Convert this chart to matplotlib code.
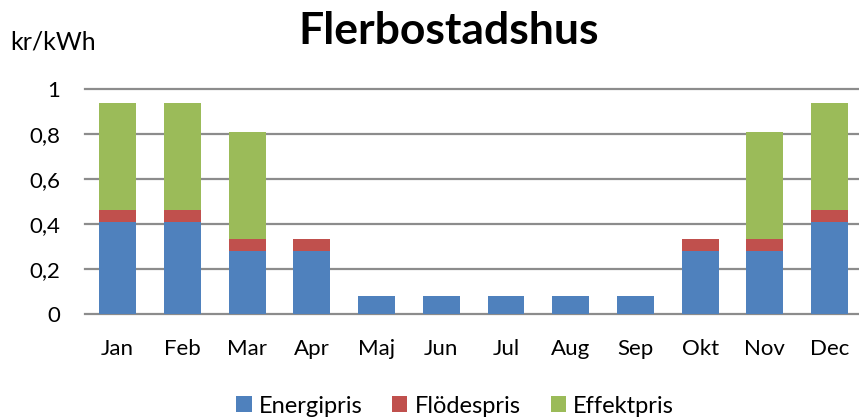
import matplotlib
matplotlib.use("Agg")
import matplotlib.pyplot as plt
import numpy as np

months = ["Jan", "Feb", "Mar", "Apr", "Maj", "Jun", "Jul", "Aug", "Sep", "Okt", "Nov", "Dec"]
energipris = [0.41, 0.41, 0.28, 0.28, 0.08, 0.08, 0.08, 0.08, 0.08, 0.28, 0.28, 0.41]
flodespris = [0.053, 0.053, 0.053, 0.053, 0, 0, 0, 0, 0, 0.053, 0.053, 0.053]
effektpris = [0.476, 0.476, 0.474, 0, 0, 0, 0, 0, 0, 0, 0.474, 0.476]
yticks = [0, 0.2, 0.4, 0.6, 0.8, 1]
ytick_labels = ["0", "0,2", "0,4", "0,6", "0,8", "1"]

plt.rcParams['font.family'] = ['Lato', 'DejaVu Sans']

W, H = 859, 419
fig = plt.figure(figsize=(W / 100, H / 100), dpi=100)
left, right = 85.3, 862
bottom, top = 314, 89
ax = fig.add_axes([left / W, (H - bottom) / H, (right - left) / W, (bottom - top) / H])

x = np.arange(len(months))
e = np.array(energipris)
f = np.array(flodespris)
g = np.array(effektpris)
w = 0.57
ax.bar(x, e, w, color="#4F81BD", label="Energipris", zorder=3)
ax.bar(x, f, w, bottom=e, color="#C0504D", label="Flödespris", zorder=3)
ax.bar(x, g, w, bottom=e + f, color="#9BBB59", label="Effektpris", zorder=3)

ax.set_xlim(-0.5, 11.5)
ax.set_ylim(0, 1)
ax.set_yticks(yticks)
ax.set_yticklabels(ytick_labels)
ax.set_xticks(x)
ax.set_xticklabels(months)
ax.tick_params(axis='both', length=0, labelsize=16, colors="black")
ax.tick_params(axis='y', pad=18)
ax.tick_params(axis='x', pad=18)
ax.yaxis.grid(True, color="#8C8C8C", linewidth=1.6, zorder=0)
for gl in ax.get_ygridlines():
    gl.set_clip_on(False)
for s in ax.spines.values():
    s.set_visible(False)

fig.text(449 / W, 1 - 31 / H, "Flerbostadshus", fontsize=32, fontweight="bold", va="center", ha="center")
fig.text(10 / W, 1 - 42 / H, "kr/kWh", fontsize=18, va="center", ha="left")

leg = fig.legend(loc="center", bbox_to_anchor=(455 / W, 1 - 406 / H), ncol=3, frameon=False,
                 fontsize=17, handlelength=0.64, handleheight=0.64, handletextpad=0.3,
                 columnspacing=1.27, borderpad=0)

fig.savefig("out.png", dpi=100)
